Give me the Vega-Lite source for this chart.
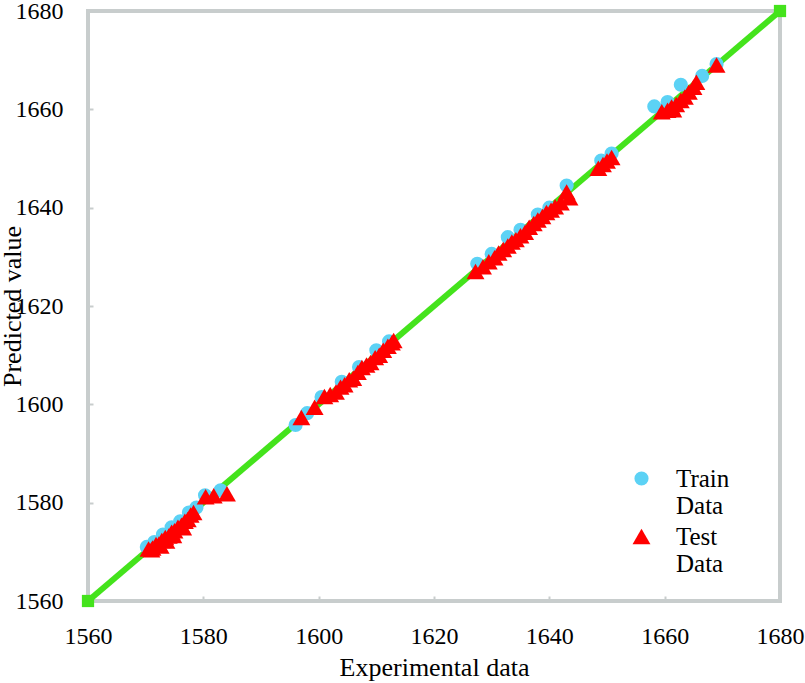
{
  "$schema": "https://vega.github.io/schema/vega-lite/v6.json",
  "width": 692,
  "height": 590,
  "autosize": {"type": "none"},
  "padding": {"left": 88, "top": 11, "right": 25, "bottom": 82},
  "background": "white",
  "config": {
    "font": "Liberation Serif",
    "style": {"guide-label": {"font": "Liberation Serif"}, "guide-title": {"font": "Liberation Serif"}},
    "view": {"stroke": "#c8cdcd", "strokeWidth": 4},
    "axis": {
      "grid": false,
      "domain": false,
      "tickColor": "#c8cdcd",
      "tickWidth": 2,
      "tickSize": -5,
      "labelFlush": false,
      "labelFont": "Liberation Serif",
      "labelFontSize": 24,
      "labelColor": "black",
      "titleFont": "Liberation Serif",
      "titleFontSize": 26,
      "titleFontWeight": "normal",
      "titleColor": "black"
    },
    "legend": {
      "labelFont": "Liberation Serif",
      "labelFontSize": 25,
      "labelColor": "black"
    }
  },
  "datasets": {
    "line": [
      {"x": 1560, "y": 1560},
      {"x": 1680, "y": 1680}
    ],
    "pts": [
      {"series": "Train Data", "x": 1570.2, "y": 1571.0},
      {"series": "Train Data", "x": 1571.5, "y": 1572.0},
      {"series": "Train Data", "x": 1573.0, "y": 1573.5},
      {"series": "Train Data", "x": 1574.5, "y": 1575.0},
      {"series": "Train Data", "x": 1576.0, "y": 1576.2},
      {"series": "Train Data", "x": 1577.5, "y": 1578.0},
      {"series": "Train Data", "x": 1578.8, "y": 1579.0},
      {"series": "Train Data", "x": 1580.3, "y": 1581.5},
      {"series": "Train Data", "x": 1583.0, "y": 1582.5},
      {"series": "Train Data", "x": 1596.0, "y": 1595.8},
      {"series": "Train Data", "x": 1598.0, "y": 1598.2},
      {"series": "Train Data", "x": 1600.5, "y": 1601.5},
      {"series": "Train Data", "x": 1604.0, "y": 1604.6},
      {"series": "Train Data", "x": 1607.0, "y": 1607.6},
      {"series": "Train Data", "x": 1610.0, "y": 1611.0},
      {"series": "Train Data", "x": 1612.2, "y": 1612.8},
      {"series": "Train Data", "x": 1627.5, "y": 1628.6},
      {"series": "Train Data", "x": 1630.0, "y": 1630.6},
      {"series": "Train Data", "x": 1632.8, "y": 1634.0},
      {"series": "Train Data", "x": 1635.0, "y": 1635.5},
      {"series": "Train Data", "x": 1638.0, "y": 1638.6},
      {"series": "Train Data", "x": 1640.0, "y": 1640.0},
      {"series": "Train Data", "x": 1643.0, "y": 1644.5},
      {"series": "Train Data", "x": 1649.0, "y": 1649.6},
      {"series": "Train Data", "x": 1650.8, "y": 1651.0},
      {"series": "Train Data", "x": 1658.2, "y": 1660.6},
      {"series": "Train Data", "x": 1660.5, "y": 1661.5},
      {"series": "Train Data", "x": 1662.8, "y": 1665.0},
      {"series": "Train Data", "x": 1666.5, "y": 1666.8},
      {"series": "Train Data", "x": 1669.0, "y": 1669.2},
      {"series": "Test Data", "x": 1570.5, "y": 1570.6},
      {"series": "Test Data", "x": 1571.0, "y": 1570.4},
      {"series": "Test Data", "x": 1571.2, "y": 1570.8},
      {"series": "Test Data", "x": 1571.8, "y": 1571.5},
      {"series": "Test Data", "x": 1572.3, "y": 1571.6},
      {"series": "Test Data", "x": 1572.6, "y": 1571.2},
      {"series": "Test Data", "x": 1572.8, "y": 1572.3},
      {"series": "Test Data", "x": 1573.4, "y": 1572.9},
      {"series": "Test Data", "x": 1573.6, "y": 1572.2},
      {"series": "Test Data", "x": 1574.0, "y": 1573.2},
      {"series": "Test Data", "x": 1574.5, "y": 1574.0},
      {"series": "Test Data", "x": 1574.8, "y": 1573.3},
      {"series": "Test Data", "x": 1575.0, "y": 1574.3},
      {"series": "Test Data", "x": 1575.6, "y": 1575.0},
      {"series": "Test Data", "x": 1576.2, "y": 1575.4},
      {"series": "Test Data", "x": 1576.5, "y": 1574.9},
      {"series": "Test Data", "x": 1576.8, "y": 1576.2},
      {"series": "Test Data", "x": 1577.3, "y": 1576.6},
      {"series": "Test Data", "x": 1577.8, "y": 1577.5},
      {"series": "Test Data", "x": 1578.3, "y": 1578.0},
      {"series": "Test Data", "x": 1580.4, "y": 1581.2},
      {"series": "Test Data", "x": 1581.8, "y": 1581.4},
      {"series": "Test Data", "x": 1584.1, "y": 1581.8},
      {"series": "Test Data", "x": 1597.0, "y": 1597.3},
      {"series": "Test Data", "x": 1599.3, "y": 1599.4},
      {"series": "Test Data", "x": 1601.0, "y": 1601.6},
      {"series": "Test Data", "x": 1602.0, "y": 1602.0},
      {"series": "Test Data", "x": 1603.0, "y": 1602.5},
      {"series": "Test Data", "x": 1603.8, "y": 1603.5},
      {"series": "Test Data", "x": 1604.5, "y": 1604.0},
      {"series": "Test Data", "x": 1605.3, "y": 1605.0},
      {"series": "Test Data", "x": 1606.0, "y": 1605.3},
      {"series": "Test Data", "x": 1606.8, "y": 1606.5},
      {"series": "Test Data", "x": 1607.5, "y": 1607.5},
      {"series": "Test Data", "x": 1608.3, "y": 1608.0},
      {"series": "Test Data", "x": 1609.0, "y": 1608.5},
      {"series": "Test Data", "x": 1609.8, "y": 1609.5},
      {"series": "Test Data", "x": 1610.5, "y": 1610.0},
      {"series": "Test Data", "x": 1611.2, "y": 1611.0},
      {"series": "Test Data", "x": 1612.0, "y": 1611.8},
      {"series": "Test Data", "x": 1612.7, "y": 1612.5},
      {"series": "Test Data", "x": 1613.0, "y": 1613.0},
      {"series": "Test Data", "x": 1627.2, "y": 1627.0},
      {"series": "Test Data", "x": 1628.5, "y": 1628.0},
      {"series": "Test Data", "x": 1629.5, "y": 1629.0},
      {"series": "Test Data", "x": 1630.5, "y": 1629.8},
      {"series": "Test Data", "x": 1631.2, "y": 1630.8},
      {"series": "Test Data", "x": 1632.0, "y": 1631.5},
      {"series": "Test Data", "x": 1632.8, "y": 1632.2},
      {"series": "Test Data", "x": 1633.5, "y": 1633.0},
      {"series": "Test Data", "x": 1634.2, "y": 1633.5},
      {"series": "Test Data", "x": 1635.0, "y": 1634.3},
      {"series": "Test Data", "x": 1635.8, "y": 1635.0},
      {"series": "Test Data", "x": 1636.5, "y": 1636.0},
      {"series": "Test Data", "x": 1637.3, "y": 1636.8},
      {"series": "Test Data", "x": 1638.0, "y": 1637.5},
      {"series": "Test Data", "x": 1638.8, "y": 1638.2},
      {"series": "Test Data", "x": 1639.5, "y": 1639.0},
      {"series": "Test Data", "x": 1640.3, "y": 1639.5},
      {"series": "Test Data", "x": 1641.0, "y": 1640.2},
      {"series": "Test Data", "x": 1642.0, "y": 1641.0},
      {"series": "Test Data", "x": 1643.5, "y": 1642.0},
      {"series": "Test Data", "x": 1643.0, "y": 1643.2},
      {"series": "Test Data", "x": 1648.5, "y": 1648.0},
      {"series": "Test Data", "x": 1649.3, "y": 1648.8},
      {"series": "Test Data", "x": 1650.0, "y": 1649.5},
      {"series": "Test Data", "x": 1650.8, "y": 1650.2},
      {"series": "Test Data", "x": 1659.5, "y": 1659.5},
      {"series": "Test Data", "x": 1660.5, "y": 1659.8},
      {"series": "Test Data", "x": 1661.2, "y": 1660.5},
      {"series": "Test Data", "x": 1661.5, "y": 1659.9},
      {"series": "Test Data", "x": 1662.0, "y": 1661.0},
      {"series": "Test Data", "x": 1662.8, "y": 1661.8},
      {"series": "Test Data", "x": 1663.5, "y": 1662.5},
      {"series": "Test Data", "x": 1664.2, "y": 1663.5},
      {"series": "Test Data", "x": 1665.0, "y": 1664.5},
      {"series": "Test Data", "x": 1665.5, "y": 1665.5},
      {"series": "Test Data", "x": 1669.0, "y": 1669.0}
    ]
  },
  "layer": [
    {
      "data": {"name": "line"},
      "mark": {
        "type": "line",
        "color": "#44e31c",
        "strokeWidth": 6,
        "clip": false,
        "point": {"shape": "square", "filled": true, "size": 150, "color": "#44e31c", "opacity": 1}
      },
      "encoding": {
        "x": {
          "field": "x",
          "type": "quantitative",
          "scale": {"domain": [1560, 1680], "nice": false, "zero": false},
          "axis": {
            "values": [1560, 1580, 1600, 1620, 1640, 1660, 1680],
            "format": "d",
            "title": "Experimental data",
            "labelFont": "Liberation Serif",
            "labelPadding": 28,
            "titleY": 74,
            "titleBaseline": "alphabetic"
          }
        },
        "y": {
          "field": "y",
          "type": "quantitative",
          "scale": {"domain": [1560, 1680], "nice": false, "zero": false},
          "axis": {
            "values": [1560, 1580, 1600, 1620, 1640, 1660, 1680],
            "format": "d",
            "title": "Predicted value",
            "labelFont": "Liberation Serif",
            "labelPadding": 30,
            "titleX": -68,
            "titleBaseline": "alphabetic"
          }
        }
      }
    },
    {
      "data": {"name": "pts"},
      "mark": {"type": "point", "filled": true, "opacity": 1, "strokeWidth": 0},
      "encoding": {
        "x": {"field": "x", "type": "quantitative"},
        "y": {"field": "y", "type": "quantitative"},
        "color": {
          "field": "series",
          "type": "nominal",
          "scale": {"domain": ["Train Data", "Test Data"], "range": ["#5cd2f5", "#ff0000"]},
          "legend": {
            "title": null,
            "orient": "none",
            "legendX": 541,
            "legendY": 455,
            "padding": 0,
            "labelOffset": 22,
            "labelFont": "Liberation Serif",
            "labelExpr": "split(datum.label, ' ')",
            "labelBaseline": "middle",
            "labelLineHeight": 31,
            "rowPadding": 5
          }
        },
        "shape": {
          "field": "series",
          "type": "nominal",
          "scale": {"domain": ["Train Data", "Test Data"], "range": ["circle", "triangle-up"]}
        },
        "size": {
          "field": "series",
          "type": "nominal",
          "scale": {"domain": ["Train Data", "Test Data"], "range": [200, 320]}
        }
      }
    }
  ]
}
